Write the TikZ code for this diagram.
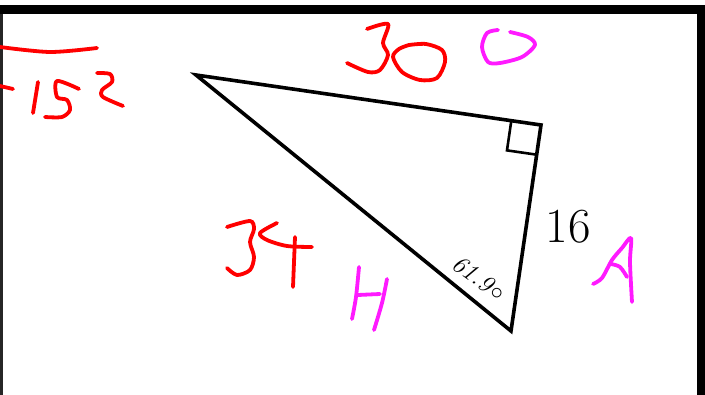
\documentclass[tikz,border=0pt]{standalone}
\usepackage{tikz}
\usetikzlibrary{calc}
\definecolor{InkRed}{HTML}{FF0000}
\definecolor{InkPink}{HTML}{FF1AFF}

\begin{document}
\begin{tikzpicture}[x=1pt, y=-1pt,
  side/.style={line width=3.6pt, black},
  ink/.style={line width=3.8pt, line cap=round, line join=round, InkRed},
  pink/.style={ink, InkPink},
  sidelabel/.style={font=\fontsize{49}{49}\selectfont, inner sep=0pt},
  anglelabel/.style={font=\fontsize{25}{25}\selectfont\itshape, inner sep=0pt}
]
\useasboundingbox (0,0) rectangle (705,395);
% frame
\fill[black] (0,5) rectangle (705,14);
\fill[black] (697,5) rectangle (705,395);
\fill[black!85] (0,14) rectangle (3,395);

% triangle
\coordinate (A) at (196,75);
\coordinate (B) at (541,125);
\coordinate (C) at (511,331);
\draw[side] (A) -- (B) -- (C) -- cycle;
\draw[line width=2.6pt] ($(B)!30pt!(A)$) -- ++($(B)!30pt!(C)-(B)$) -- ($(B)!30pt!(C)$);

\node[sidelabel] (opp) at (568,227) {16};
\node[anglelabel, rotate=-36] (ang) at (479,278) {61.9\kern2pt$\circ$};

% red working
\draw[ink] plot[smooth] coordinates {(0,47) (50,52) (97,48)};
\draw[ink] (0,86) -- (13,89);
\draw[ink] (38,82) -- (33,113);
\draw[ink] plot[smooth] coordinates {(79,89) (57,81) (57,97) (67,100) (70,110) (62,117) (45,117)};
\draw[ink] plot[smooth] coordinates {(97,73) (110,74) (112,82) (102,90) (103,97) (123,106)};
\draw[ink] plot[smooth] coordinates {(367,29) (388,24) (383,43) (388,55) (380,70) (368,72) (347,63)};
\draw[ink] plot[smooth] coordinates {(409,45) (426,44) (442,50) (445,62) (437,78) (420,80) (402,72) (393,57) (399,49) (409,45)};
\draw[ink] plot[smooth] coordinates {(227,227) (250,221) (254,229) (250,242) (254,257) (250,270) (237,275) (227,268)};
\draw[ink] plot[smooth] coordinates {(277,223) (260,233) (267,240) (287,246) (312,247)};
\draw[ink] (295,237) -- (293,287);

% pink letters
\draw[pink] plot[smooth] coordinates {(498,30) (487,33) (482,47) (488,62) (500,63) (522,57) (535,45) (528,37) (510,32)};
\draw[pink] plot[smooth] coordinates {(359,267) (356,297) (352,319)};
\draw[pink] plot[smooth] coordinates {(387,279) (382,303) (374,330)};
\draw[pink] (358,295) -- (380,294);
\draw[pink] plot[smooth] coordinates {(593,284) (602,278) (612,260) (622,248) (631,238) (630,262) (632,302)};
\draw[pink] plot[smooth] coordinates {(611,264) (620,267) (627,277)};
\end{tikzpicture}
\end{document}
